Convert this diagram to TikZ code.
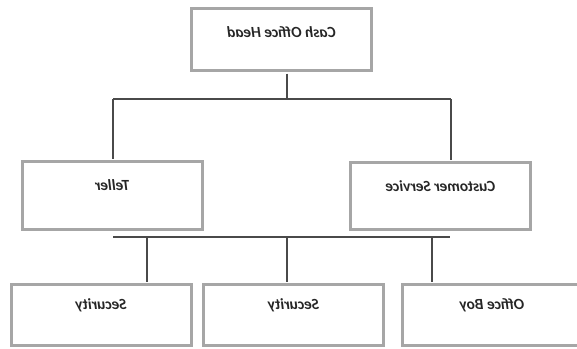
\documentclass[tikz,border=0pt]{standalone}
\usepackage{fontspec}
\usepackage{graphicx}
\setmainfont{Carlito}
\usetikzlibrary{calc}
\definecolor{boxgray}{HTML}{A6A6A6}
\definecolor{linegray}{HTML}{4A4A4A}
\tikzset{
  orgbox/.style={draw=boxgray, line width=3pt, fill=white, inner sep=0pt,
    minimum width=180pt, minimum height=#1},
  orgbox/.default=62pt,
  orglabel/.style={font=\bfseries\itshape\fontsize{15.5}{18}\selectfont, text=black!85, inner sep=0pt},
  wire/.style={draw=linegray, line width=1.2pt}
}
\newcommand{\mirtext}[1]{\reflectbox{#1}}
\begin{document}
\begin{tikzpicture}[x=1pt,y=-1pt]
  \useasboundingbox[fill=white] (0,0) rectangle (577,348);

  % boxes
  \node[orgbox=62pt] (head) at (281.5,39.5) {};
  \node[orgbox=68pt] (teller) at (112.5,195.5) {};
  \node[orgbox=67pt] (cs) at (440.5,196) {};
  \node[orgbox=61pt] (sec1) at (101,315) {};
  \node[orgbox=61pt] (sec2) at (293.5,315) {};
  \node[orgbox=61pt] (boy) at (492,315) {};

  % labels (set mirrored)
  \node[orglabel] (headtxt) at ($(head.north)+(0,25)$) {\mirtext{Cash Office Head}};
  \node[orglabel] (tellertxt) at ($(teller.north)+(0,25)$) {\mirtext{Teller}};
  \node[orglabel] (cstxt) at ($(cs.north)+(0,25)$) {\mirtext{Customer Service}};
  \node[orglabel] (sec1txt) at ($(sec1.north)+(0,22)$) {\mirtext{Security}};
  \node[orglabel] (sec2txt) at ($(sec2.north)+(0,22)$) {\mirtext{Security}};
  \node[orglabel] (boytxt) at ($(boy.north)+(0,22)$) {\mirtext{Office Boy}};

  % junction points
  \coordinate (busA) at (287,99);
  \coordinate (busAl) at (113,99);
  \coordinate (busAr) at (451,99);
  \coordinate (busBl) at (113,237);
  \coordinate (busBr) at (450,237);
  \coordinate (dropB1) at (147,237);
  \coordinate (dropB2) at (287,237);
  \coordinate (dropB3) at (432,237);

  % upper level
  \draw[wire] ([yshift=-1.5pt]head.south -| busA) -- (busA);
  \draw[wire] (busAl) -- (busAr);
  \draw[wire] (busAl) -- ([yshift=1.5pt]teller.north -| busAl);
  \draw[wire] (busAr) -- ([yshift=1.5pt]cs.north -| busAr);

  % lower level
  \draw[wire] (busBl) -- (busBr);
  \draw[wire] (dropB1) -- ([yshift=1.5pt]sec1.north -| dropB1);
  \draw[wire] (dropB2) -- ([yshift=1.5pt]sec2.north -| dropB2);
  \draw[wire] (dropB3) -- ([yshift=1.5pt]boy.north -| dropB3);
\end{tikzpicture}
\end{document}
